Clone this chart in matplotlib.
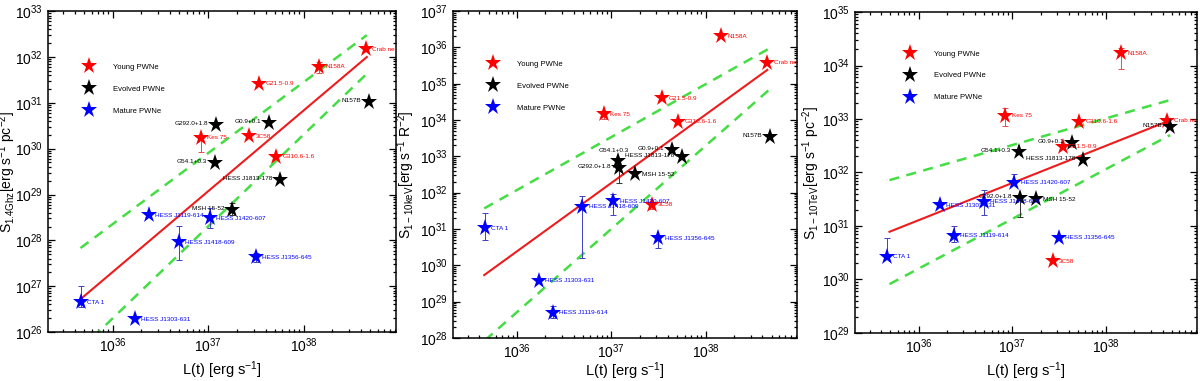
import numpy as np
import matplotlib.pyplot as plt
from matplotlib.lines import Line2D
from matplotlib.ticker import LogLocator, NullFormatter

plt.rcParams['font.family'] = ['Liberation Sans', 'DejaVu Sans']
plt.rcParams['mathtext.default'] = 'regular'

# sources, their group and spin-down luminosity L(t) [erg/s]
names = ["Crab nebula", "N158A", "G21.5-0.9", "3C58", "Kes 75", "G310.6-1.6",
         "N157B", "G0.9+0.1", "G292.0+1.8", "G54.1+0.3", "HESS J1813-178", "MSH 15-52",
         "HESS J1119-614", "HESS J1420-607", "HESS J1418-609", "HESS J1356-645",
         "CTA 1", "HESS J1303-631"]
groups = ["young"] * 6 + ["evolved"] * 6 + ["mature"] * 6
lum = [4.5e38, 1.45e38, 3.45e37, 2.7e37, 8.4e36, 5.15e37,
       4.8e38, 4.35e37, 1.2e37, 1.17e37, 5.6e37, 1.8e37,
       2.4e36, 1.05e37, 4.95e36, 3.15e37, 4.6e35, 1.7e36]

# S_1.4GHz
s_radio = [1.46e32, 6.1e31, 2.6e31, 1.87e30, 1.73e30, 6.6e29,
           1.05e31, 3.67e30, 3.27e30, 4.8e29, 2.07e29, 4.57e28,
           3.55e28, 3.0e28, 9.0e27, 4.3e27, 4.45e26, 1.9e26]
s_radio_lo = [None, 4.5e31, None, None, 8.5e29, None,
              None, None, None, None, None, 3.6e28,
              None, 1.9e28, 3.7e27, 3.4e27, 3.6e26, None]
s_radio_hi = [None, 7.8e31, None, None, None, None,
              None, None, None, None, None, 6.5e28,
              None, 5.0e28, 2.1e28, 5.2e27, 1.02e27, None]

# S_1-10keV
s_xray = [3.8e35, 2.05e36, 3.95e34, 4.6e31, 1.46e34, 9.0e33,
          3.46e33, 1.49e33, 4.7e32, 7.4e32, 9.4e32, 3.2e32,
          5.0e28, 5.9e31, 4.1e31, 5.5e30, 1.05e31, 3.8e29]
s_xray_lo = [None, None, None, 3.5e31, 1.1e34, None,
             None, None, 1.8e32, None, None, None,
             3.6e28, 2.4e31, 1.55e30, 2.95e30, 5.0e30, None]
s_xray_hi = [None, None, None, 5.7e31, None, None,
             None, None, None, None, None, None,
             7.6e28, 9.5e31, 8.1e31, None, 2.7e31, None]

# S_1-10TeV
s_tev = [9.3e32, 1.69e34, 3.04e32, 2.2e30, 1.14e33, 8.9e32,
         7.2e32, 3.6e32, 3.4e31, 2.45e32, 1.7e32, 3.16e31,
         6.6e30, 6.5e31, 2.85e31, 6.0e30, 2.67e30, 2.45e31]
s_tev_lo = [None, 8.5e33, None, None, 7.4e32, None,
            None, None, 1.48e31, None, None, None,
            5.1e30, None, 1.6e31, None, None, None]
s_tev_hi = [None, 2.1e34, None, None, 1.58e33, None,
            None, None, None, None, None, None,
            1.0e31, 9.5e31, 4.7e31, None, 5.9e30, None]

# best fit and confidence band end points
fit_radio_x = [4.6e35, 4.6e38]
fit_radio_y = [5.2e26, 1.0e32]
band_radio_up_x = [4.6e35, 4.6e38]
band_radio_up_y = [6.8e27, 3.0e32]
band_radio_lo_x = [4.6e35, 5.0e38]
band_radio_lo_y = [4.2e25, 5.1e31]

fit_xray_x = [4.5e35, 4.5e38]
fit_xray_y = [5.4e29, 2.4e35]
band_xray_up_x = [4.5e35, 4.7e38]
band_xray_up_y = [3.7e31, 9.3e35]
band_xray_lo_x = [4.6e35, 4.7e38]
band_xray_lo_y = [8.7e27, 6.8e34]

fit_tev_x = [4.9e35, 4.4e38]
fit_tev_y = [7.8e30, 8.9e32]
band_tev_up_x = [4.9e35, 4.8e38]
band_tev_up_y = [7.2e31, 2.26e33]
band_tev_lo_x = [4.9e35, 4.8e38]
band_tev_lo_y = [8.2e29, 5.0e32]

colors = {"young": "#ff0000", "evolved": "#000000", "mature": "#0000ff"}
err_colors = {"young": "#e05050", "evolved": "#333333", "mature": "#4040c0"}
legend_names = {"young": "Young PWNe", "evolved": "Evolved PWNe", "mature": "Mature PWNe"}

panels = [
    dict(pos=[0.040, 0.1286, 0.290, 0.842], ylim=(1e26, 1e33), y=s_radio, lo=s_radio_lo, hi=s_radio_hi,
         fit=(fit_radio_x, fit_radio_y), up=(band_radio_up_x, band_radio_up_y),
         low=(band_radio_lo_x, band_radio_lo_y),
         ylabel=r"$S_{1.4Ghz}$[erg s$^{-1}$ pc$^{-2}$]", ylx=-0.087, xly=-0.084, leg=(0.105, 0.836),
         left={"G292.0+1.8", "G54.1+0.3", "HESS J1813-178", "N157B", "G0.9+0.1", "MSH 15-52"},
         above=set()),
    dict(pos=[0.3775, 0.1129, 0.2867, 0.858], ylim=(1e28, 1e37), y=s_xray, lo=s_xray_lo, hi=s_xray_hi,
         fit=(fit_xray_x, fit_xray_y), up=(band_xray_up_x, band_xray_up_y),
         low=(band_xray_lo_x, band_xray_lo_y),
         ylabel=r"$S_{1-10keV}$[erg s$^{-1}$ R$^{-2}$]", ylx=-0.105, xly=-0.070, leg=(0.104, 0.849),
         left={"N157B", "G0.9+0.1", "HESS J1813-178", "G292.0+1.8"},
         above={"G54.1+0.3"}),
    dict(pos=[0.7125, 0.126, 0.285, 0.8425], ylim=(1e29, 1e35), y=s_tev, lo=s_tev_lo, hi=s_tev_hi,
         fit=(fit_tev_x, fit_tev_y), up=(band_tev_up_x, band_tev_up_y),
         low=(band_tev_lo_x, band_tev_lo_y),
         ylabel=r"$S_{1-10TeV}$[erg s$^{-1}$ pc$^{-2}$]", ylx=-0.097, xly=-0.084, leg=(0.148, 0.881),
         left={"G54.1+0.3", "G0.9+0.1", "HESS J1813-178", "N157B", "G292.0+1.8"},
         above=set()),
]

fig = plt.figure(figsize=(12, 3.81), dpi=100)

for p in panels:
    ax = fig.add_axes(p["pos"])
    ax.set_xscale("log")
    ax.set_yscale("log")
    ax.set_xlim(2.1e35, 9.3e38)
    ax.set_ylim(*p["ylim"])

    # fit and confidence band
    ax.plot(*p["fit"], color="#ee1c1c", lw=1.5, zorder=2)
    ax.plot(*p["up"], color="#44dd44", lw=1.8, ls=(0, (4, 3)), zorder=2)
    ax.plot(*p["low"], color="#44dd44", lw=1.8, ls=(0, (4, 3)), zorder=2)

    y = np.array(p["y"], dtype=float)
    lo = np.array(p["lo"], dtype=float)
    hi = np.array(p["hi"], dtype=float)
    x = np.array(lum, dtype=float)
    for g in ["young", "evolved", "mature"]:
        idx = [i for i, gg in enumerate(groups) if gg == g]
        for i in idx:
            if np.isnan(lo[i]) and np.isnan(hi[i]):
                continue
            el = 0 if np.isnan(lo[i]) else y[i] - lo[i]
            eh = 0 if np.isnan(hi[i]) else hi[i] - y[i]
            ax.errorbar(x[i], y[i], yerr=[[el], [eh]], fmt="none", ecolor=err_colors[g],
                        elinewidth=0.7, capsize=2.5, capthick=0.7, zorder=3)
        ax.plot(x[idx], y[idx], ls="none", marker="*", ms=12.5, color=colors[g],
                markeredgewidth=0, zorder=4)
        for i in idx:
            name = names[i]
            if name in p["left"]:
                off, ha, va = (-5.5, 1), "right", "center"
            elif name in p["above"]:
                off, ha, va = (-3, 6), "center", "bottom"
            else:
                off, ha, va = (4.5, 0), "left", "center"
            ax.annotate(name, (x[i], y[i]), xytext=off, textcoords="offset points",
                        ha=ha, va=va, fontsize=4.6, color=colors[g], clip_on=True, zorder=5)

    handles = [Line2D([], [], ls="none", marker="*", ms=12.5, color=colors[g], markeredgewidth=0)
               for g in ["young", "evolved", "mature"]]
    ax.legend(handles, [legend_names[g] for g in ["young", "evolved", "mature"]],
              loc="upper left", bbox_to_anchor=p["leg"], frameon=False, fontsize=5.5,
              handlelength=1.2, handletextpad=2.5, labelspacing=1.9, borderpad=0, borderaxespad=0)

    ax.tick_params(which="both", direction="in", top=True, right=True, labelsize=10, width=0.9)
    ax.tick_params(which="major", length=5)
    ax.tick_params(which="minor", length=2.5)
    ax.yaxis.set_major_locator(LogLocator(base=10, numticks=20))
    ax.yaxis.set_minor_locator(LogLocator(base=10, subs=np.arange(2, 10), numticks=20))
    ax.xaxis.set_minor_locator(LogLocator(base=10, subs=np.arange(2, 10), numticks=20))
    ax.xaxis.set_minor_formatter(NullFormatter())
    ax.yaxis.set_minor_formatter(NullFormatter())
    for s in ax.spines.values():
        s.set_linewidth(1.1)

    ax.set_xlabel(r"L(t) [erg s$^{-1}$]", fontsize=10.5)
    ax.xaxis.set_label_coords(0.5, p["xly"])
    ax.set_ylabel(p["ylabel"], fontsize=10)
    ax.yaxis.set_label_coords(p["ylx"], 0.5)

fig.savefig("out.png", dpi=100)
